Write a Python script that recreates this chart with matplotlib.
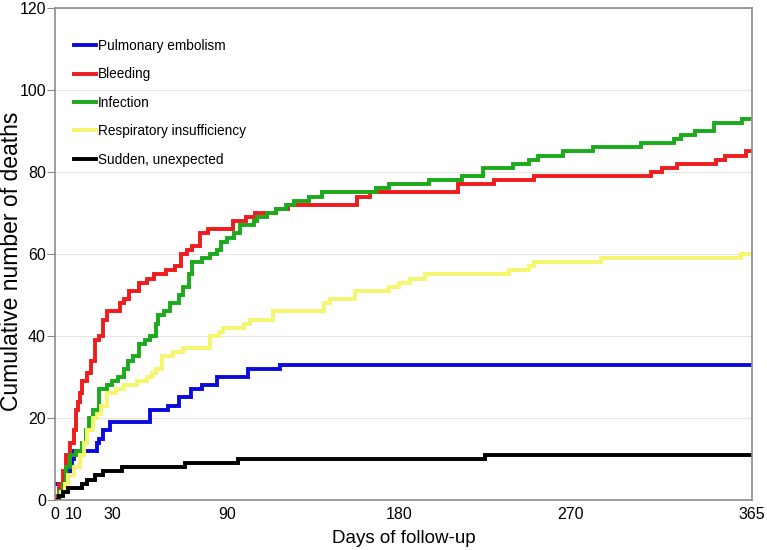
import matplotlib
matplotlib.use("Agg")
import matplotlib.pyplot as plt

# -----------------------------
# Data (day of change, cumulative count after the change)
# -----------------------------
pe_days = [0, 6, 7, 8, 9, 10, 22, 23, 25, 29, 50, 59, 65, 71, 77, 85, 101, 118, 365]
pe_vals = [4, 5, 6, 8, 10, 12, 14, 15, 17, 19, 22, 23, 25, 27, 28, 30, 32, 33, 33]

bleed_days = [0, 2, 4, 6, 8, 10, 11, 12, 13, 14, 17, 19, 21, 23, 25, 27, 34, 36, 39, 44,
              48, 52, 58, 63, 66, 69, 72, 76, 80, 93, 100, 105, 116, 122, 158, 165, 211,
              230, 251, 312, 318, 326, 346, 351, 362, 365]
bleed_vals = [1, 4, 7, 11, 14, 17, 22, 24, 26, 29, 31, 34, 39, 40, 44, 46, 48, 49, 51, 53,
              54, 55, 56, 57, 60, 61, 62, 65, 66, 68, 69, 70, 71, 72, 74, 75, 77,
              78, 79, 80, 81, 82, 83, 84, 85, 85]

inf_days = [0, 2, 4, 6, 8, 11, 14, 16, 18, 20, 23, 27, 30, 33, 36, 38, 41, 44, 47, 50,
            53, 54, 57, 60, 65, 67, 70, 72, 77, 81, 85, 87, 90, 94, 97, 104, 106, 111,
            116, 121, 125, 133, 140, 168, 175, 196, 213, 224, 240, 248, 253, 266, 282,
            307, 324, 328, 335, 345, 360, 365]
inf_vals = [0, 2, 4, 8, 11, 12, 14, 17, 20, 22, 27, 28, 29, 30, 32, 34, 35, 38, 39, 40,
            43, 45, 46, 48, 50, 52, 55, 58, 59, 60, 61, 63, 64, 65, 67, 68, 69, 70,
            71, 72, 73, 74, 75, 76, 77, 78, 79, 81, 82, 83, 84, 85, 86,
            87, 88, 89, 90, 92, 93, 93]

resp_days = [0, 3, 5, 7, 10, 13, 15, 17, 20, 22, 24, 27, 32, 36, 43, 48, 51, 53, 56, 62,
             67, 81, 86, 88, 99, 102, 114, 141, 144, 157, 175, 180, 186, 194, 238, 248,
             251, 286, 359, 365]
resp_vals = [0, 2, 4, 6, 8, 11, 14, 17, 20, 21, 23, 26, 27, 28, 29, 30, 31, 32, 35, 36,
             37, 40, 41, 42, 43, 44, 46, 48, 49, 51, 52, 53, 54, 55, 56, 57,
             58, 59, 60, 60]

sudden_days = [0, 2, 4, 7, 14, 17, 21, 25, 35, 68, 96, 225, 365]
sudden_vals = [0, 1, 2, 3, 4, 5, 6, 7, 8, 9, 10, 11, 11]

series = [
    ("Pulmonary embolism", pe_days, pe_vals, "#0A0ADC"),
    ("Bleeding", bleed_days, bleed_vals, "#EE1C1C"),
    ("Infection", inf_days, inf_vals, "#1BAA1B"),
    ("Respiratory insufficiency", resp_days, resp_vals, "#F6F66E"),
    ("Sudden, unexpected", sudden_days, sudden_vals, "#000000"),
]

x_ticks = [0, 10, 30, 90, 180, 270, 365]
y_ticks = [0, 20, 40, 60, 80, 100, 120]

# -----------------------------
# Plot
# -----------------------------
plt.rcParams["font.family"] = ["Liberation Sans", "DejaVu Sans"]
narrow = ["Liberation Sans Narrow", "Liberation Sans"]

fig = plt.figure(figsize=(7.67, 5.5), dpi=100)
ax = fig.add_axes([0.0717, 0.0909, 0.9087, 0.8946])

for name, days, vals, color in series:
    ax.plot(days, vals, drawstyle="steps-post", color=color, linewidth=2.8,
            label=name, solid_joinstyle="miter")

ax.set_xlim(0, 365)
ax.set_ylim(0, 120)
ax.set_xticks(x_ticks)
ax.set_yticks(y_ticks)
ax.set_xticklabels([str(t) for t in x_ticks], family=narrow, fontsize=11.5)
ax.set_yticklabels([str(t) for t in y_ticks], family=narrow, fontsize=11.5)
ax.tick_params(axis="y", length=5.5, color="#888888", pad=1)
ax.tick_params(axis="x", length=0, pad=5)

ax.grid(True, axis="y", color="#E6E6E6", linewidth=0.8)
ax.set_axisbelow(True)
for sp in ax.spines.values():
    sp.set_color("#8C8C8C")
    sp.set_linewidth(1.2)

ax.set_xlabel("Days of follow-up", fontsize=13.5, labelpad=6)
fig.text(12 / 767, 0.5245, "Cumulative number of deaths", rotation=90,
         ha="center", va="center", fontsize=16.5)

ax.legend(loc="upper left", bbox_to_anchor=(0.0093, 0.962), frameon=False,
          fontsize=9.8, handlelength=1.62, handletextpad=0.15, labelspacing=1.06)

plt.savefig("out.png", dpi=100)
